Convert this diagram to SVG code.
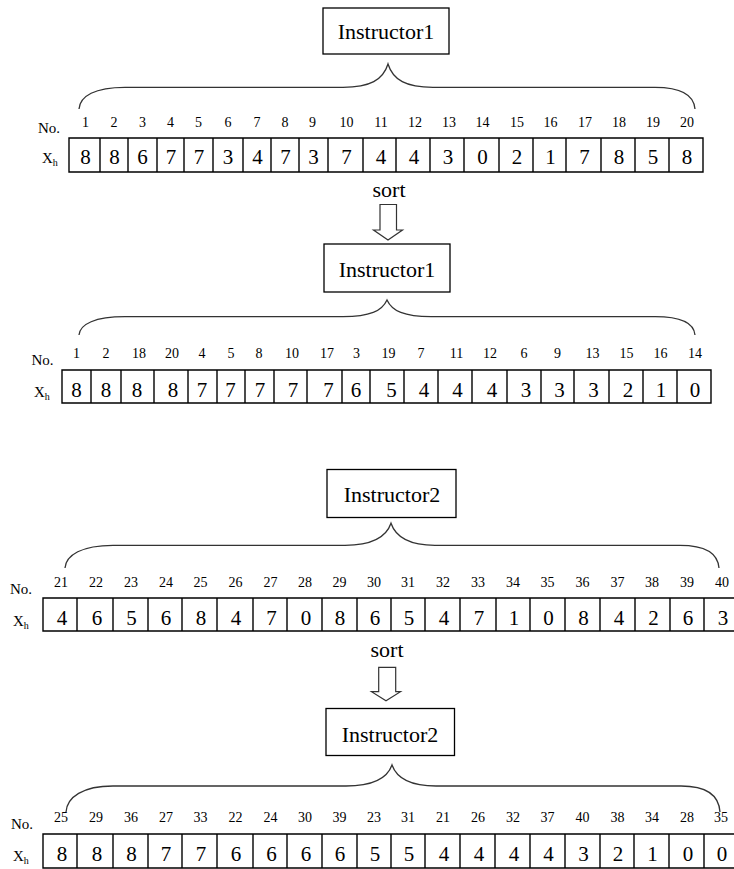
<svg xmlns="http://www.w3.org/2000/svg" width="734" height="869" viewBox="0 0 734 869" font-family="'Liberation Serif', 'DejaVu Serif', serif">
<style>
text{font-family:'Liberation Serif','DejaVu Serif',serif;fill:#000}
.box{fill:#fff;stroke:#000;stroke-width:1.3}
.title{font-size:22px;text-anchor:middle}
.cells{fill:none;stroke:#000;stroke-width:1.4}
.v{font-size:21px;text-anchor:middle}
.n{font-size:14px;text-anchor:middle}
.lab{font-size:15px}
.sub{font-size:10px}
.brace{fill:none;stroke:#333;stroke-width:1.3}
.arrow{fill:#fff;stroke:#333;stroke-width:1.2}
.sort{font-size:22px;text-anchor:middle}
</style>
<rect width="734" height="869" fill="#fff"/>

<g id="connectors">
<path class="brace" d="M79,109 C80,96 95,87.3 125,87.3 L343,87.3 C370,87.3 383,80 388,64 C393,80 406,87.3 433,87.3 L655,87.3 C683,87.3 694,96 695,109"/>
<path class="brace" d="M79,335 C80,324 95,316.7 125,316.7 L343,316.7 C370,316.7 382,311 387,300 C392,311 404,316.7 431,316.7 L655,316.7 C683,316.7 694,324 695,335"/>
<path class="brace" d="M65,568 C66,555 82,545.3 113,545.3 L345,545.3 C372,545.3 386,538 391,523.3 C396,538 410,545.3 435,545.3 L680,545.3 C708,545.3 718,555 719,568"/>
<path class="brace" d="M66,812 C67,797 83,786 113,786 L346,786 C373,786 387,779 392,765 C397,779 411,786 436,786 L681,786 C709,786 719,797 720,812"/>
<g id="sort1">
<text class="sort" x="389" y="197">sort</text>
<path class="arrow" d="M380,204.5 L396.5,204.5 L396.5,230 L402.5,230 L388,240 L373.5,230 L380,230 Z"/>
</g>
<g id="sort2">
<text class="sort" x="387" y="657">sort</text>
<path class="arrow" d="M378.7,667.3 L395.7,667.3 L395.7,691.7 L400.5,691.7 L386,700.7 L371.5,691.7 L378.7,691.7 Z"/>
</g>
</g>

<g id="instructor1-a">
<rect class="box" x="323" y="8" width="126" height="46"/>
<text class="title" x="386" y="39">Instructor1</text>
</g>
<g id="array1">
<text class="lab" x="38" y="133">No.</text>
<text class="lab" x="42" y="163">X<tspan class="sub" dy="3">h</tspan></text>
<path class="cells" d="M69,138 H703 V172 H69 Z M100,138V172 M128,138V172 M157,138V172 M184,138V172 M213,138V172 M243,138V172 M271,138V172 M299,138V172 M328,138V172 M363,138V172 M396,138V172 M430,138V172 M464,138V172 M499,138V172 M533,138V172 M566,138V172 M601,138V172 M635,138V172 M669,138V172"/>
<g class="n">
<text x="85.5" y="127">1</text><text x="114" y="127">2</text><text x="142.5" y="127">3</text><text x="170.5" y="127">4</text><text x="198.5" y="127">5</text><text x="228" y="127">6</text><text x="257" y="127">7</text><text x="285" y="127">8</text><text x="312.5" y="127">9</text><text x="346.5" y="127">10</text><text x="381" y="127">11</text><text x="415" y="127">12</text><text x="449" y="127">13</text><text x="482.5" y="127">14</text><text x="517" y="127">15</text><text x="550.5" y="127">16</text><text x="585" y="127">17</text><text x="619" y="127">18</text><text x="653" y="127">19</text><text x="687" y="127">20</text>
</g>
<g class="v">
<text x="85.5" y="164">8</text><text x="114.5" y="164">8</text><text x="142.5" y="164">6</text><text x="171" y="164">7</text><text x="199" y="164">7</text><text x="228" y="164">3</text><text x="257.5" y="164">4</text><text x="285.5" y="164">7</text><text x="313.5" y="164">3</text><text x="346.5" y="164">7</text><text x="381" y="164">4</text><text x="414" y="164">4</text><text x="448" y="164">3</text><text x="482.5" y="164">0</text><text x="517" y="164">2</text><text x="550.5" y="164">1</text><text x="584.5" y="164">7</text><text x="619" y="164">8</text><text x="653" y="164">5</text><text x="687" y="164">8</text>
</g>
</g>

<g id="instructor1-b">
<rect class="box" x="324" y="244" width="126" height="48"/>
<text class="title" x="387" y="277">Instructor1</text>
</g>
<g id="array2">
<text class="lab" x="31.5" y="365">No.</text>
<text class="lab" x="34" y="397">X<tspan class="sub" dy="3">h</tspan></text>
<path class="cells" d="M62,370 H711 V403 H62 Z M91,370V403 M121,370V403 M154,370V403 M188,370V403 M217,370V403 M245,370V403 M274,370V403 M307,370V403 M342,370V403 M370,370V403 M404,370V403 M438,370V403 M472,370V403 M507,370V403 M541,370V403 M574,370V403 M609,370V403 M643,370V403 M677,370V403"/>
<g class="n">
<text x="76.5" y="358">1</text><text x="106" y="358">2</text><text x="139" y="358">18</text><text x="172" y="358">20</text><text x="202" y="358">4</text><text x="231" y="358">5</text><text x="259" y="358">8</text><text x="292" y="358">10</text><text x="327" y="358">17</text><text x="356.5" y="358">3</text><text x="388.5" y="358">19</text><text x="421" y="358">7</text><text x="456.5" y="358">11</text><text x="490" y="358">12</text><text x="524" y="358">6</text><text x="557.5" y="358">9</text><text x="592.5" y="358">13</text><text x="626.5" y="358">15</text><text x="660.5" y="358">16</text><text x="695" y="358">14</text>
</g>
<g class="v">
<text x="76.5" y="397">8</text><text x="106" y="397">8</text><text x="137" y="397">8</text><text x="173" y="397">8</text><text x="202" y="397">7</text><text x="230.5" y="397">7</text><text x="260" y="397">7</text><text x="293" y="397">7</text><text x="328.5" y="397">7</text><text x="356" y="397">6</text><text x="391.5" y="397">5</text><text x="424" y="397">4</text><text x="457.5" y="397">4</text><text x="492" y="397">4</text><text x="526" y="397">3</text><text x="559.5" y="397">3</text><text x="593.5" y="397">3</text><text x="628" y="397">2</text><text x="661" y="397">1</text><text x="695" y="397">0</text>
</g>
</g>

<g id="instructor2-a">
<rect class="box" x="327" y="469.5" width="129" height="48"/>
<text class="title" x="392" y="502">Instructor2</text>
</g>
<g id="array3">
<text class="lab" x="10" y="594">No.</text>
<text class="lab" x="13" y="626">X<tspan class="sub" dy="3">h</tspan></text>
<path class="cells" d="M43,598 H739 V631 H43 Z M77,598V631 M113,598V631 M148,598V631 M182,598V631 M217,598V631 M253,598V631 M287,598V631 M322,598V631 M357,598V631 M391,598V631 M425,598V631 M460,598V631 M496,598V631 M530,598V631 M565,598V631 M600,598V631 M635,598V631 M670,598V631 M704,598V631"/>
<g class="n">
<text x="61" y="587">21</text><text x="96" y="587">22</text><text x="131" y="587">23</text><text x="166" y="587">24</text><text x="200.5" y="587">25</text><text x="235.5" y="587">26</text><text x="270.5" y="587">27</text><text x="305" y="587">28</text><text x="339.5" y="587">29</text><text x="374" y="587">30</text><text x="408" y="587">31</text><text x="443" y="587">32</text><text x="478" y="587">33</text><text x="513" y="587">34</text><text x="547.5" y="587">35</text><text x="582.5" y="587">36</text><text x="617.5" y="587">37</text><text x="652" y="587">38</text><text x="687" y="587">39</text><text x="722" y="587">40</text>
</g>
<g class="v">
<text x="62" y="625">4</text><text x="97" y="625">6</text><text x="131.5" y="625">5</text><text x="166" y="625">6</text><text x="201" y="625">8</text><text x="236" y="625">4</text><text x="271.5" y="625">7</text><text x="306" y="625">0</text><text x="340" y="625">8</text><text x="375" y="625">6</text><text x="409" y="625">5</text><text x="444" y="625">4</text><text x="479" y="625">7</text><text x="514" y="625">1</text><text x="548.5" y="625">0</text><text x="583.5" y="625">8</text><text x="619" y="625">4</text><text x="653.5" y="625">2</text><text x="688" y="625">6</text><text x="723" y="625">3</text>
</g>
</g>

<g id="instructor2-b">
<rect class="box" x="326" y="708.5" width="128.5" height="47"/>
<text class="title" x="390" y="742">Instructor2</text>
</g>
<g id="array4">
<text class="lab" x="11" y="829">No.</text>
<text class="lab" x="13" y="861">X<tspan class="sub" dy="3">h</tspan></text>
<path class="cells" d="M43,834 H738 V868 H43 Z M77,834V868 M113,834V868 M148,834V868 M182,834V868 M217,834V868 M253,834V868 M287,834V868 M322,834V868 M357,834V868 M391,834V868 M425,834V868 M460,834V868 M495,834V868 M530,834V868 M565,834V868 M600,834V868 M634,834V868 M669,834V868 M704,834V868"/>
<g class="n">
<text x="61" y="822">25</text><text x="96" y="822">29</text><text x="131" y="822">36</text><text x="166" y="822">27</text><text x="200.5" y="822">33</text><text x="235.5" y="822">22</text><text x="270.5" y="822">24</text><text x="305" y="822">30</text><text x="339.5" y="822">39</text><text x="374" y="822">23</text><text x="408" y="822">31</text><text x="443" y="822">21</text><text x="478" y="822">26</text><text x="513" y="822">32</text><text x="547.5" y="822">37</text><text x="582.5" y="822">40</text><text x="617.5" y="822">38</text><text x="652" y="822">34</text><text x="687" y="822">28</text><text x="721" y="822">35</text>
</g>
<g class="v">
<text x="62" y="861">8</text><text x="97" y="861">8</text><text x="131.5" y="861">8</text><text x="166" y="861">7</text><text x="201" y="861">7</text><text x="236" y="861">6</text><text x="271.5" y="861">6</text><text x="306" y="861">6</text><text x="340" y="861">6</text><text x="375" y="861">5</text><text x="409" y="861">5</text><text x="444" y="861">4</text><text x="479" y="861">4</text><text x="514" y="861">4</text><text x="548.5" y="861">4</text><text x="583.5" y="861">3</text><text x="618" y="861">2</text><text x="652.5" y="861">1</text><text x="688" y="861">0</text><text x="722" y="861">0</text>
</g>
</g>
</svg>
